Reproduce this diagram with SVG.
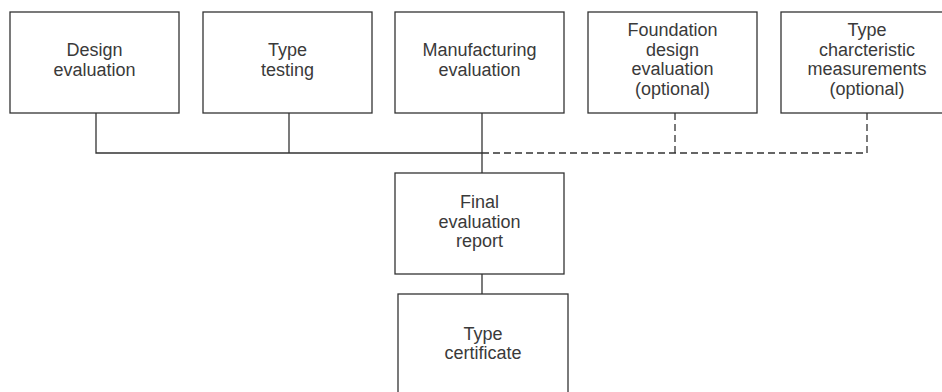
<svg xmlns="http://www.w3.org/2000/svg" width="942" height="392" viewBox="0 0 942 392">
<style>
.box{fill:#fff;stroke:#333;stroke-width:1.3}
.t{font-family:"Liberation Sans",Arial,sans-serif;font-size:18px;fill:#3a3a3a;text-anchor:middle}
.c{fill:none;stroke:#333;stroke-width:1.3}
.d{fill:none;stroke:#333;stroke-width:1.3;stroke-dasharray:7,4}
</style>
<rect width="942" height="392" fill="#fff"/>
<g id="connectors">
<polyline class="c" points="96,113 96,153 482,153"/>
<line class="c" x1="289" y1="113" x2="289" y2="153"/>
<line class="c" x1="482" y1="113" x2="482" y2="173"/>
<polyline class="d" points="482,153 867,153 867,113"/>
<line class="d" x1="675" y1="113" x2="675" y2="153"/>
<line class="c" x1="482" y1="274" x2="482" y2="294"/>
</g>
<g id="design">
<rect class="box" x="10" y="12" width="169" height="101"/>
<text class="t" x="94.5" y="56">Design</text>
<text class="t" x="94.5" y="76">evaluation</text>
</g>
<g id="typetesting">
<rect class="box" x="203" y="12" width="169" height="101"/>
<text class="t" x="287.5" y="56">Type</text>
<text class="t" x="287.5" y="76">testing</text>
</g>
<g id="manufacturing">
<rect class="box" x="395" y="12" width="169" height="101"/>
<text class="t" x="479.5" y="56">Manufacturing</text>
<text class="t" x="479.5" y="76">evaluation</text>
</g>
<g id="foundation">
<rect class="box" x="588" y="12" width="169" height="101"/>
<text class="t" x="672.5" y="36">Foundation</text>
<text class="t" x="672.5" y="55.5">design</text>
<text class="t" x="672.5" y="75">evaluation</text>
<text class="t" x="672.5" y="94.5">(optional)</text>
</g>
<g id="typechar">
<rect class="box" x="781" y="12" width="175" height="101"/>
<text class="t" x="867" y="36">Type</text>
<text class="t" x="867" y="55.5">charcteristic</text>
<text class="t" x="867" y="75">measurements</text>
<text class="t" x="867" y="94.5">(optional)</text>
</g>
<g id="final">
<rect class="box" x="395" y="173" width="169" height="101"/>
<text class="t" x="479.5" y="208">Final</text>
<text class="t" x="479.5" y="227.5">evaluation</text>
<text class="t" x="479.5" y="247">report</text>
</g>
<g id="certificate">
<rect class="box" x="398" y="294" width="170" height="110"/>
<text class="t" x="483" y="340">Type</text>
<text class="t" x="483" y="359">certificate</text>
</g>
</svg>
